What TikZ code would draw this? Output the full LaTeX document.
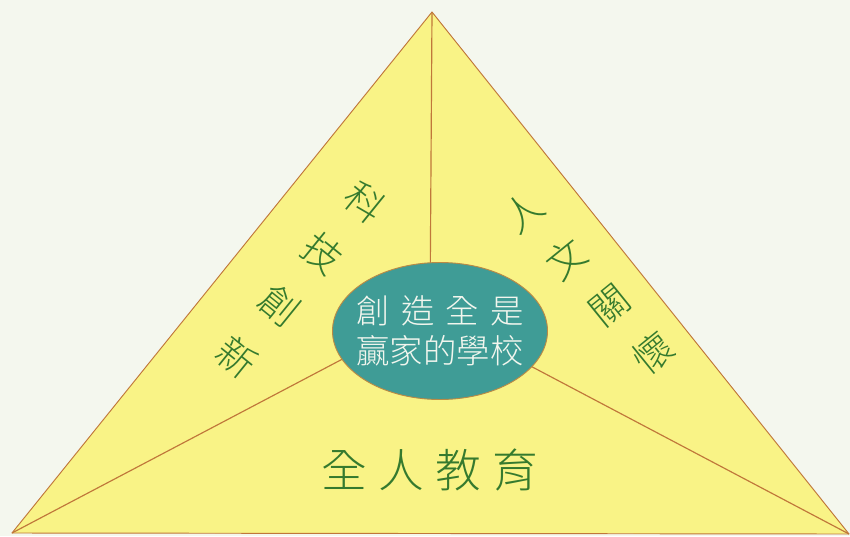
\documentclass[tikz,border=0pt]{standalone}
\usepackage{fontspec}
\newfontfamily\cjk{Noto Sans CJK TC Light}
\usetikzlibrary{shapes.geometric}
\definecolor{paper}{HTML}{F4F7EE}
\definecolor{lemon}{HTML}{F9F386}
\definecolor{edgebrown}{HTML}{C0773A}
\definecolor{rimbrown}{HTML}{B98A45}
\definecolor{lagoon}{HTML}{3F9C96}
\definecolor{leafgreen}{HTML}{357A2E}
\definecolor{chalk}{HTML}{F2F6EE}

\begin{document}
\begin{tikzpicture}[x=0.03cm,y=-0.03cm,
  spoke/.style={draw=edgebrown,line width=1pt},
  sidetext/.style={text=leafgreen,inner sep=0pt,font=\cjk\fontsize{33}{33}\selectfont},
  basetext/.style={text=leafgreen,inner sep=0pt,font=\cjk\fontsize{39}{39}\selectfont}]
  \fill[paper] (0,0) rectangle (850,536);
  \useasboundingbox (0,0) rectangle (850,536);
  % corners of the triangle and the meeting point of the spokes
  \coordinate (apex) at (432,12);
  \coordinate (bl) at (12,533);
  \coordinate (br) at (849,534);
  \coordinate (hub) at (430,313);
  \filldraw[fill=lemon,draw=edgebrown,line width=0.8pt,line join=round] (apex) -- (bl) -- (br) -- cycle;
  \draw[spoke] (apex) -- (hub);
  \draw[spoke] (bl) -- (hub);
  \draw[spoke] (br) -- (hub);
  % centre
  \node (core) [ellipse,draw=rimbrown,line width=0.8pt,fill=lagoon,inner sep=0pt,minimum width=6.45cm,minimum height=4.11cm] at (440,331) {};
  \node (motto) [text=chalk,align=center,inner sep=0pt,font=\cjk\fontsize{28.5}{34}\selectfont] at (core.center)
    {創\hspace{3.36mm}造\hspace{3.36mm}全\hspace{3.36mm}是\\贏家的學校};
  % the three sides
  \foreach \ch [count=\i from 0] in {科,技,創,新}
    \node (sci\i) [sidetext,rotate=-39] at ({365-42.7*\i},{202+51.7*\i}) {\ch};
  \foreach \ch [count=\i from 0] in {人,文,關,懷}
    \node (hum\i) [sidetext,rotate=39] at ({523+43.3*\i},{212+47*\i}) {\ch};
  \foreach \ch [count=\i from 0] in {全,人,教,育}
    \node (whole\i) [basetext] at ({344+57*\i},470) {\ch};
\end{tikzpicture}
\end{document}
